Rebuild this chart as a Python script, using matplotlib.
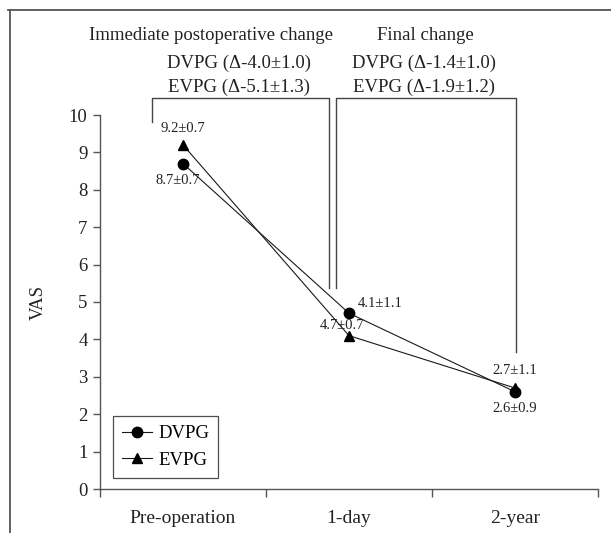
import matplotlib
matplotlib.use("Agg")
import matplotlib.pyplot as plt
from matplotlib.lines import Line2D

plt.rcParams['font.family'] = ['Liberation Serif', 'DejaVu Serif']

categories = ["Pre-operation", "1-day", "2-year"]
dvpg = [8.7, 4.7, 2.6]
evpg = [9.2, 4.1, 2.7]
dvpg_labels = ["8.7±0.7", "4.7±0.7", "2.6±0.9"]
evpg_labels = ["9.2±0.7", "4.1±1.1", "2.7±1.1"]
yticks = list(range(0, 11))

W, H = 611, 533
fig = plt.figure(figsize=(W/100, H/100), dpi=100)
ax = fig.add_axes([100/W, 1-489/H, 498/W, 374/H])

xs = [i + 0.5 for i in range(len(categories))]
lc = '#1a1a1a'
ax.plot(xs, dvpg, color=lc, lw=0.8, marker='o', ms=7.5, mfc='black', mec='black', label='DVPG', zorder=3)
ax.plot(xs, evpg, color=lc, lw=0.8, marker='^', ms=7.5, mfc='black', mec='black', label='EVPG', zorder=3)

ax.set_xlim(0, 3)
ax.set_ylim(0, 10)
ax.set_yticks(yticks)
ax.set_xticks([0, 1, 2, 3])
ax.set_xticklabels([])
for x, c in zip(xs, categories):
    ax.text(x, -0.55, c, ha='center', va='top', fontsize=14, color='#222')

for s in ['top', 'right']:
    ax.spines[s].set_visible(False)
for s in ['left', 'bottom']:
    ax.spines[s].set_color('#555')
    ax.spines[s].set_linewidth(1.0)
ax.tick_params(axis='y', direction='out', length=5, width=1.0, color='#555', labelsize=13.5, labelcolor='#222', pad=4)
ax.tick_params(axis='x', direction='out', length=6, width=1.0, color='#555')
ax.set_ylabel('VAS', fontsize=13.5, color='#222', labelpad=16)

# value labels
fs = 10.5
ax.text(0.5, 9.65, evpg_labels[0], ha='center', va='center', fontsize=fs, color='#222')
ax.text(0.47, 8.24, dvpg_labels[0], ha='center', va='center', fontsize=fs, color='#222')
ax.text(1.555, 4.97, evpg_labels[1], ha='left', va='center', fontsize=fs, color='#222')
ax.text(1.458, 4.36, dvpg_labels[1], ha='center', va='center', fontsize=fs, color='#222')
ax.text(2.5, 3.16, evpg_labels[2], ha='center', va='center', fontsize=fs, color='#222')
ax.text(2.5, 2.14, dvpg_labels[2], ha='center', va='center', fontsize=fs, color='#222')

# brackets
bc = '#444'
ax.plot([0.313, 0.313, 1.38, 1.38], [9.81, 10.45, 10.45, 5.37], color=bc, lw=1.0, clip_on=False)
ax.plot([1.42, 1.42, 2.506, 2.506], [5.37, 10.45, 10.45, 3.66], color=bc, lw=1.0, clip_on=False)

# header texts
def ftext(x, y, s, **kw):
    fig.text(x/W, 1-y/H, s, ha='center', va='center', fontsize=13.5, color='#222', **kw)
ftext(211, 36, "Immediate postoperative change")
ftext(239, 63, "DVPG (Δ-4.0±1.0)")
ftext(239, 87, "EVPG (Δ-5.1±1.3)")
ftext(425, 36, "Final change")
ftext(424, 63, "DVPG (Δ-1.4±1.0)")
ftext(424, 87, "EVPG (Δ-1.9±1.2)")

# legend
leg = ax.legend(loc='lower left', bbox_to_anchor=(13/498, 11/374), borderaxespad=0, fontsize=13.5,
                frameon=True, fancybox=False, edgecolor='#222', handlelength=1.6, borderpad=0.5,
                labelspacing=0.5, handletextpad=0.3, markerscale=1.0)
leg.get_frame().set_linewidth(0.9)

# outer frame
fig.add_artist(Line2D([8/W, 1], [1-10/H, 1-10/H], transform=fig.transFigure, color='#555', lw=1.3))
fig.add_artist(Line2D([10/W, 10/W], [1-10/H, 0], transform=fig.transFigure, color='#555', lw=1.3))

fig.savefig('out.png', dpi=100)
